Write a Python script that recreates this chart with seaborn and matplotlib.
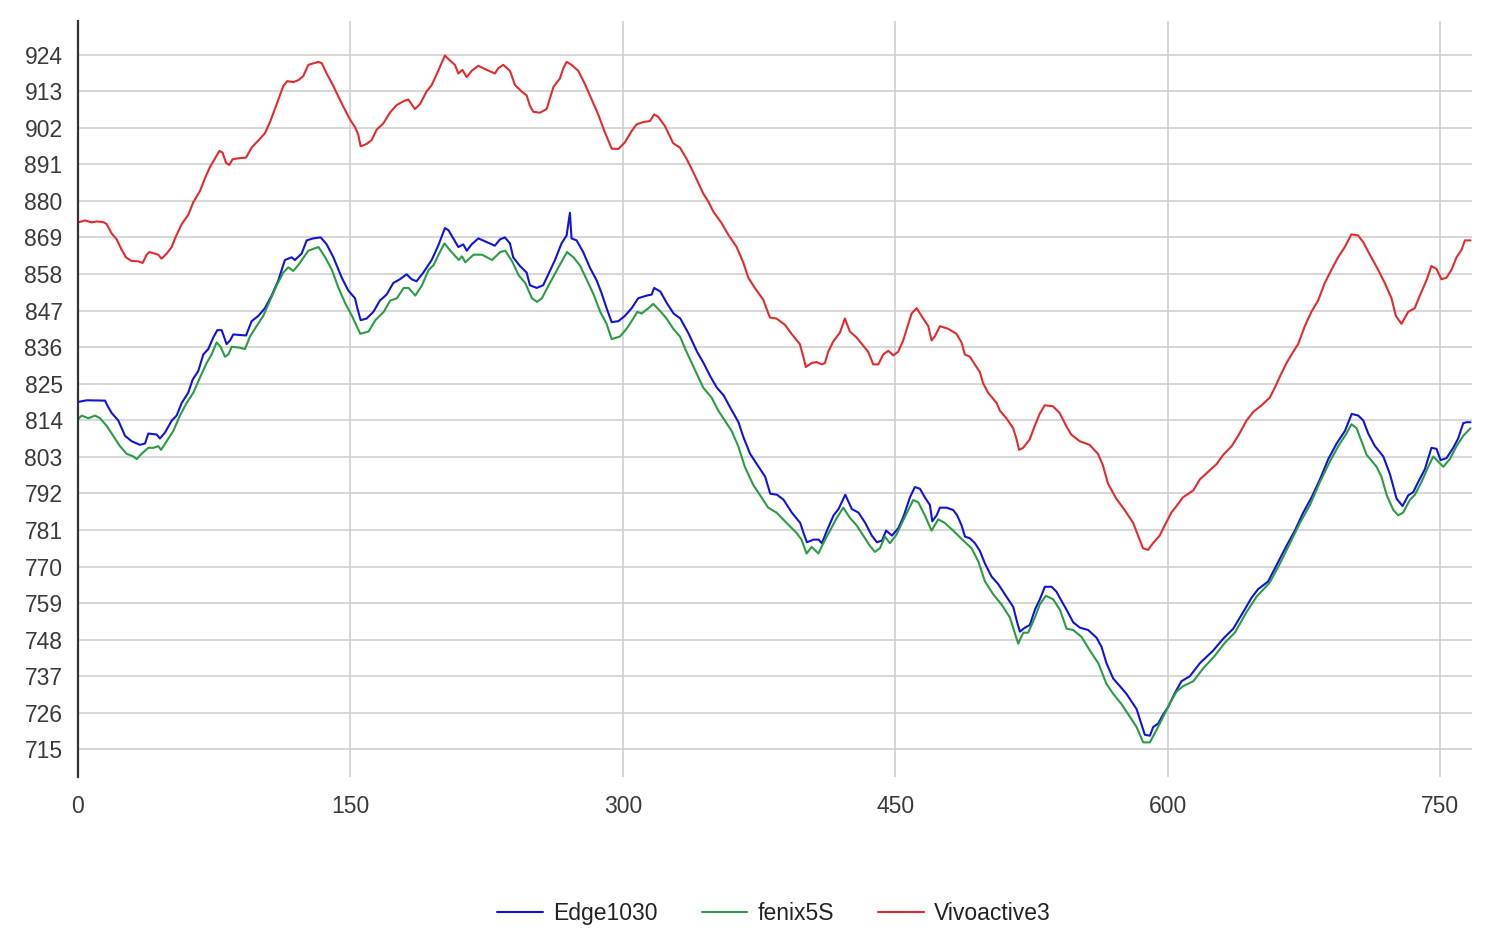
import pandas as pd
import matplotlib
matplotlib.use("Agg")
import matplotlib.pyplot as plt
import seaborn as sns

# elevation readings per device (x = sample index / distance)
edge_x = [0, 4.8, 14.9, 16.1, 18.5, 22.2, 25.9, 29.5, 34.1, 36.9,
          38.7, 43.3, 45.1, 47.9, 51.6, 54.3, 57.1, 60.7, 63.1, 66.2,
          69, 71.7, 74.5, 76.7, 79.1, 81.8, 83.7, 85.5, 92.5, 95.6,
          99.3, 102.9, 106.6, 110.3, 113.9, 117.6, 119.4, 123.1,
          125.9, 129.5, 133.6, 136.9, 140.6, 145.2, 148.8, 152.5, 153.8, 155.6,
          158.9, 162.6, 166.2, 169.9, 173.6, 177.2, 180.9, 183.7, 186.4, 190.1,
          194.7, 198.3, 202, 203.9, 206.6, 209.4, 212.1, 214, 216.7, 220.4,
          225, 229.5, 232.3, 235, 237.8, 239.6, 243.3, 247, 248.8, 252.5,
          256.1, 258.9, 262.6, 266.2, 269, 270.8, 271.7, 274.5, 278.1, 281.8,
          285.5, 288.2,
          291, 293.8, 297.5, 301.1, 304.8, 308.4, 313.1, 315.8, 317.2, 320.6,
          324.2, 327.9, 331.6, 336.2, 340.8, 344.4, 348.1, 351.7, 355.4, 360,
          363.6, 366.4, 370, 373.7, 378.3, 381.1, 384.8, 388.4, 393, 397.6,
          399.4, 401.3, 405, 407.7, 409.5, 412.3, 416, 418.7, 422.4, 426,
          429.7, 433.4, 437, 439.8, 442.6, 444.9, 448.1, 451.7, 454.5,
          458, 460.7, 463.5, 466.2, 469, 470.3, 472.7, 474.5, 478.2, 481.8,
          484, 486.4, 488.3, 491, 493.8, 496.5, 499.3, 502.9, 506.6, 510.3,
          514.9, 516.7, 518.5, 521.3, 524, 526.8, 529.5, 532.3, 536, 538.7,
          541.5, 544.2, 547.9, 551.6, 556.1, 560.7, 563.5, 566.2, 569.9, 573.6,
          577.2, 580, 582.8, 585.5, 587.3, 590.1, 591.9, 594.7, 597.4, 600.2,
          603.9, 607.5,
          612.1, 617.6, 624.9, 630.5, 636, 640.6, 646.1, 649.7, 655.2, 658,
          661.7, 665.3, 669.9, 674.5, 679.1, 683.7, 688.3, 692.9, 697.5, 701.2,
          704.8, 707.6, 710.3, 714, 718.6, 722.3, 725.9, 729.2, 732.3, 735.1,
          737.8, 741.5, 745.1, 747.9, 750.1, 753.4, 757.1, 759.8, 762.6, 764.4,
          766.6]
edge_y = [819.5, 820, 819.9, 818.5, 816.2, 813.9, 809.3, 807.7, 806.6, 807,
          810, 809.7, 808.5, 810.3, 813.9, 815.4, 819.2, 822.3, 826.2, 828.8,
          833.8, 835.4, 838.9, 841.1, 841.1, 836.9, 838, 839.8, 839.5, 843.8,
          845.4, 847.7, 851.5, 856.1, 862.2, 863, 862.2, 864.1,
          868.1, 868.7, 869, 866.9, 863, 856.9, 853, 850.7, 847.7, 844.1,
          844.6, 846.6, 850, 851.8, 855.3, 856.4, 857.9, 856.4, 855.8, 858.4,
          862.2, 866.5, 871.8, 871.2, 868.7, 866.1, 866.9, 865, 866.9, 868.7,
          867.6, 866.5, 868.4, 869, 867.2, 863, 860.4, 858.4, 854.6, 853.8,
          854.6, 857.9, 862.2, 867.2, 869.6, 876.4, 868.7, 868.1, 864.6, 859.9,
          856.1, 852.3,
          847.7, 843.5, 843.8, 845.4, 847.7, 850.7, 851.5, 851.8, 853.8, 852.7,
          849.2, 846.1, 844.6, 840, 834.6, 831.2, 827.2, 823.8, 821.5, 816.9,
          813.4, 808.8, 803.9, 800.8, 797, 791.9, 791.6, 790.1, 786.2, 783.1,
          780.1, 777.3, 778.1, 778.1, 777, 780.8, 785.4, 787.3, 791.6, 787.3,
          786.2, 783.1, 779.3, 777.3, 777.8, 780.8, 779.3, 781.6, 785.1,
          790.8, 793.9, 793.4, 790.8, 788.5, 783.6, 785.4, 787.7, 787.7, 787,
          785.4, 782.4, 779, 778.5, 777, 774.7, 770.9, 767, 764.7, 761.6,
          757.8, 753.9, 750.4, 751.6, 752.4, 757, 760.1, 763.9, 763.9, 762.4,
          759.6, 757, 753.2, 751.6, 750.9, 748.6, 745.8, 740.9, 736.3, 734,
          731.7, 729.4, 727.1, 722.5, 719.4, 719.1, 721.7, 722.8, 725.5, 727.8,
          732, 735.5,
          737, 740.9, 744.7, 748.3, 751.3, 755.5, 760.6, 763.2, 765.5, 768.5,
          772.4, 776.2, 780.8, 786.2, 790.8, 796.2, 802.3, 807, 810.8, 815.9,
          815.4, 813.9, 810, 806.2, 803.1, 797.7, 790.4, 788.2, 791.4, 792.4,
          795.4, 799.3, 805.7, 805.4, 802, 802.6, 805.7, 808.5, 813.1, 813.4,
          813.4]

fenix_x = [0, 2, 5.7, 9.4, 12.1, 15.8, 19.4, 23.1, 26.8, 30.5,
           32.3, 35, 38.7, 41.5, 44.2, 45.7, 48.8, 52.5, 56.1, 59.8,
           63.5, 67.2, 70.8, 73.6, 76.3, 78.5, 80.9, 82.8, 84.6, 89.2,
           91.9, 94.7, 98.3, 102, 105.7, 109.4, 113, 115.8, 118.5, 121.3,
           126.8, 132.4, 136.1, 139.8, 143.4, 147.1, 150.8, 155.4, 160, 163.7,
           168.3, 171.9, 175.6, 179.3, 182, 185.7, 189.4, 193, 195.8, 198.5,
           201.7, 205, 209.6, 211.4, 213.2, 217.8, 222.4, 227.9, 232.5, 235.2,
           238.9, 242.6, 246.2, 249.9, 252.7, 255.4, 259.1, 263.7, 269.2, 272.8,
           276.5, 280.2, 283.9, 287.5,
           291, 293.8, 298.4, 302, 305.7, 307.9, 310.3, 314, 316.7, 320.4,
           324, 327.7, 331.4, 335, 339.6, 344.2, 348.8, 352.5, 356.1, 359.8,
           363.5, 367.1, 371.7, 376.3, 380, 384.6, 390.1, 395.6, 398.3, 401.1,
           403.9, 407.6, 410.3, 414, 417.7, 421.3, 425, 428.6, 432.3, 436,
           438.7, 441.5, 444.2, 447, 450.6, 454.3,
           459.8, 462.6, 466.2, 469.9, 473.6, 477.2, 481.8, 487.4, 491.9, 495.6,
           499.3, 503.9, 508.4, 513, 517.6, 520.4, 523.1, 526.8, 529.5, 532.8,
           536.9, 540.6, 544.2, 547.9, 552.5, 557.1, 561.7, 566.2, 569.9, 574.5,
           579.1, 582.8, 586.4, 590.1, 593.8, 597.4, 601.1, 604.8, 608.4,
           614, 619.5, 625.9, 631.4, 636.9, 643.3, 648.8, 656.1, 661.7, 667.2,
           672.7, 678.2, 683.7, 689.2, 693.8, 698.3, 701.1, 703.9, 706.6, 709.4,
           714.9, 717.6, 720.4, 724.1, 726.8, 729.5, 733.2, 736, 739.6, 743.3,
           746.1, 748.8, 751.6, 755.2, 758.9, 762.6, 766.6]
fenix_y = [814.3, 815.4, 814.6, 815.4, 814.6, 812.3, 809.3, 806.2, 803.9, 803.1,
           802.3, 803.9, 805.7, 805.7, 806.2, 805.1, 807.7, 810.8, 815.4, 819.2,
           822.3, 826.9, 831.2, 833.8, 837.4, 836.1, 833.1, 833.8, 836.1, 835.8,
           835.4, 839.2, 842.3, 845.4, 850, 854.6, 858.4, 860, 858.9, 860.7,
           865, 866.1, 863, 859.2, 853.8, 849.2, 845.4, 840, 840.7, 844.1,
           846.6, 850, 850.7, 853.8, 853.8, 851.5, 854.6, 859.2, 860.7, 863.8,
           867.2, 865, 862.2, 863.3, 861.5, 863.8, 863.8, 862.2, 864.6, 865,
           861.9, 857.6, 855.3, 850.7, 849.6, 850.7, 854.6, 859.2, 864.6, 863,
           860.4, 856.1, 851.8, 846.6,
           843, 838.4, 839.2, 841.5, 844.6, 846.6, 846.1, 847.7, 849, 846.9,
           844.6, 841.5, 839.2, 834.6, 829.2, 823.8, 820.8, 816.9, 813.9, 810.8,
           806.2, 800, 794.6, 790.8, 787.7, 786.2, 783.1, 780.1, 778.1, 773.9,
           775.9, 773.9, 777, 780.8, 784.6, 787.7, 784.6, 782.4, 779.3, 776.2,
           774.4, 775.5, 779, 777, 779.6, 783.9,
           790, 789.3, 785.4, 780.8, 784.2, 783.1, 780.8, 777.8, 775.5, 771.6,
           765.5, 761.6, 758.6, 754.7, 746.8, 750.1, 750.1, 754.7, 758.6, 761.2,
           760.1, 757, 751.3, 750.9, 748.8, 744.7, 740.9, 734.7, 731.7, 728.6,
           724.8, 721.7, 717.1, 717.1, 720.9, 724.8, 728.9, 732.4, 734,
           735.5, 739.4, 743.2, 747.1, 750.1, 756.3, 760.9, 765.2, 770.9, 777,
           783.1, 788.5, 795.4, 801.6, 806.2, 810, 812.8, 811.6, 807.7, 803.6,
           800, 797, 791.6, 787, 785.4, 786.2, 790, 791.6, 795.4, 800,
           803.1, 801.6, 800, 802.3, 806.2, 809.3, 811.6]

vivo_x = [0, 3.9, 7.5, 10.3, 13.9, 15.8, 18.5, 21.3, 24, 26.4,
          29.5, 33.2, 35.6, 37.8, 39.3, 42.4, 44.2, 46, 48.8, 51.6,
          53.4, 57.1, 60.7, 63.5, 67.2, 69.9, 72.7, 75.4, 77.8, 79.6,
          81.5, 83.3, 85.1, 88.3, 92.5, 95.6, 98.3, 102.9, 105.7, 109.4,
          113, 115.2, 118.5, 121.3, 124,
          126.8, 132.4, 134.2, 136.9, 140.6, 143.3, 146.1, 149.7, 152.5, 154.3,
          155.6, 158.9, 161.7, 164.4, 168.1, 171.7, 175.4, 179, 181.8, 185.5,
          188.3, 191.9, 194.7, 198.3, 202, 204.8, 207.5, 209.4, 211.6, 214,
          216.7, 220.4, 225, 229.5, 231.4, 234.1, 237.8, 240.6, 244.2, 247,
          248.8, 250.6, 254.3, 258, 261.7, 265.3, 267.2, 269, 271.7, 275.4,
          279, 282.7, 286.4, 289.5,
          293.8, 297.5, 301.1, 304.8, 307.5, 311.2, 314.9, 317.2, 319.4, 323.1,
          327.7, 331.4, 335, 339.6, 344.2, 346.9, 349.7, 354.3, 357.9, 362.6,
          366.2, 369, 372.6, 377.2, 379, 380.9, 384.5, 389.2, 392.8, 397.4,
          399.3, 400.7, 403.9, 406.6, 409.4, 411.2, 413, 415.8, 419.5, 422.2,
          424.9, 428.6, 432.3, 435, 437.8, 440.6, 443.3, 446.1, 448.8, 451.5,
          454.3,
          458.9, 461.7, 465.3, 468.1, 469.9, 471.7, 474.5, 479.1, 483.6, 486.4,
          488.2, 491, 493.7, 496.5, 498.3, 501, 505.7, 507.5, 511.1, 514.8,
          516.6, 518.1, 520.3, 523.9, 526.7, 529.4, 532.2, 536.7, 540.4, 544,
          546.8, 551.4, 556.9, 561.5, 564.2, 567, 571.6, 576.2, 580.9, 583.6,
          586.3, 589.1, 591.8, 595.5, 598.3, 601.9, 605.6, 608.3,
          614, 617.6, 622.2, 626.8, 630.5, 635.1, 638.7, 643.3, 647, 651.6,
          656.1, 658.9, 661.7, 665.3, 669, 671.7, 675.4, 679, 682.7, 686.4,
          690, 693.7, 697.4, 701, 704.7, 707.5, 711.2, 715.8, 719.4, 723.1,
          725.5, 728.6, 732.3, 735.9, 738.7, 742.4, 745.1, 747.9, 750.6, 753.4,
          756.1, 758.9, 761.7, 763.5, 766.6]
vivo_y = [873.5, 874.1, 873.5, 873.8, 873.6, 873, 870.2, 868.4, 865.3, 863,
          861.9, 861.8, 861.3, 863.8, 864.6, 864.1, 863.8, 862.6, 864.1, 866.1,
          868.7, 873, 875.8, 879.6, 883, 886.8, 890.2, 892.7, 895, 894.5,
          891.4, 890.8, 892.5, 892.8, 893, 896, 897.6, 900.3, 903.7, 909.1,
          914.5, 916, 915.7, 916.3, 917.5,
          920.9, 921.8, 921.4, 918.3, 914.5, 911.4, 908.3, 904.5, 902.2, 899.9,
          896.4, 897.1, 898.3, 901.4, 903.3, 906.5, 908.8, 909.9, 910.5, 907.6,
          909.1, 912.9, 914.8, 919.1, 923.7, 922.2, 920.9, 918.3, 919.4, 917.2,
          919.1, 920.6, 919.4, 918.3, 919.9, 920.9, 919.1, 914.8, 912.9, 911.7,
          908.6, 906.8, 906.5, 907.6, 914.2, 916.8, 919.9, 921.8, 920.9, 919.1,
          915.2, 910.6, 906, 901.4,
          895.7, 895.6, 897.6, 901, 903, 903.7, 904, 906, 905.3, 902.5,
          897.3, 896, 892.7, 887.6, 882.2, 879.9, 876.8, 873.3, 869.9, 866.1,
          861.5, 856.9, 853.8, 850.3, 847.7, 844.9, 844.6, 842.7, 840, 836.9,
          833.1, 830, 831.2, 831.5, 830.8, 831.2, 834.6, 837.7, 840.4, 844.6,
          840.7, 838.9, 836.4, 834.6, 830.8, 830.8, 833.8, 834.9, 833.5, 834.6,
          838,
          846.1, 847.7, 844.6, 842.3, 838, 839.2, 842.3, 841.5, 840, 837.4,
          833.8, 833.1, 830.8, 828.5, 825.1, 822.3, 819.2, 816.9, 814.6, 811.6,
          808.5, 805.1, 805.7, 808.2, 812.3, 815.9, 818.5, 818.2, 816.2, 812.3,
          809.7, 807.7, 806.6, 803.9, 800.5, 795, 790.4, 787, 783.1, 779.3,
          775.5, 775, 777, 779.3, 782.4, 786.2, 788.8, 790.8,
          792.9, 796.2, 798.5, 800.8, 803.6, 806.2, 809.3, 813.9, 816.5, 818.5,
          820.8, 823.8, 827.2, 831.2, 834.6, 836.9, 842.3, 846.6, 850, 855.3,
          859.2, 863, 866.1, 869.9, 869.6, 867.6, 863.8, 859.2, 855.3, 850.7,
          845.4, 843, 846.6, 847.7, 851.5, 856.1, 860.4, 859.5, 856.4, 856.9,
          859.2, 863, 865.3, 868.1, 868.1]

devices = ["Edge1030", "fenix5S", "Vivoactive3"]
colors = ["#1212dc", "#2b9c45", "#e52a2d"]
y_ticks = list(range(715, 925, 11))
x_ticks = [0, 150, 300, 450, 600, 750]

frames = []
for name, xs, ys in zip(devices, [edge_x, fenix_x, vivo_x], [edge_y, fenix_y, vivo_y]):
    frames.append(pd.DataFrame({"x": xs, "elev": ys, "device": name}))
df = pd.concat(frames, ignore_index=True)

sns.set_theme(style="white")
plt.rcParams["font.family"] = ["Liberation Sans", "DejaVu Sans"]

fig = plt.figure(figsize=(15, 9.49), dpi=100)
ax = fig.add_axes([0.052, 0.1813, 0.9293, 0.7966])

sns.lineplot(data=df, x="x", y="elev", hue="device", hue_order=devices,
             palette=dict(zip(devices, colors)), estimator=None, sort=True,
             linewidth=1.5, ax=ax)

ax.set_xlim(0, 767.4)
ax.set_ylim(706.7, 934.1)
ax.set_yticks(y_ticks)
ax.set_xticks(x_ticks)
ax.set_xlabel("")
ax.set_ylabel("")

for y in y_ticks:
    ax.axhline(y, color="#cccccc", linewidth=1.1, zorder=0)
for x in x_ticks[1:]:
    ax.axvline(x, color="#cccccc", linewidth=1.1, zorder=0)

for s in ["top", "right", "bottom"]:
    ax.spines[s].set_visible(False)
ax.spines["left"].set_color("#333333")
ax.spines["left"].set_linewidth(1.6)

ax.tick_params(axis="y", length=0, pad=11, labelsize=16.5, labelcolor="#3a3a3a")
ax.tick_params(axis="x", length=0, pad=13, labelsize=16.5, labelcolor="#3a3a3a")

sns.move_legend(ax, "center", bbox_to_anchor=(0.516, 0.037),
                bbox_transform=fig.transFigure, ncol=3, frameon=False,
                title=None, fontsize=16.5, handlelength=2.0,
                handletextpad=0.45, columnspacing=1.9)
for t in ax.get_legend().get_texts():
    t.set_color("#222222")

fig.savefig("out.png", dpi=100, facecolor="white")
